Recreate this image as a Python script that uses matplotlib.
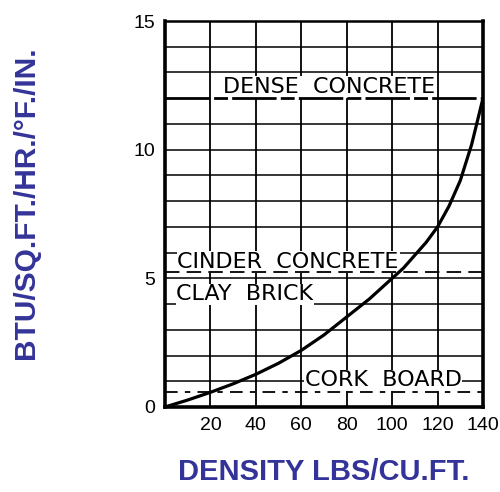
import numpy as np
import matplotlib
matplotlib.use("Agg")
import matplotlib.pyplot as plt

# Thermal conductivity of building materials vs. density
density = [0, 10, 20, 30, 40, 50, 60, 70, 80, 90, 100, 105, 110, 115, 120, 125, 130, 135, 140]
conductivity = [0, 0.27, 0.57, 0.9, 1.27, 1.7, 2.2, 2.8, 3.5, 4.2, 5.0, 5.4, 5.9, 6.4, 7.0,
                7.8, 8.8, 10.2, 12.0]

# Reference levels for individual materials
materials = ["DENSE  CONCRETE", "CINDER  CONCRETE", "CLAY  BRICK", "CORK  BOARD"]
dense_level = 12.0
cinder_level = 5.25
cork_level = 0.6
label_x = [25.5, 5.5, 5.0, 61.5]
label_y = [12.2, 5.4, 4.15, 0.8]

x_ticks = [20, 40, 60, 80, 100, 120, 140]
y_ticks = [0, 5, 10, 15]

label_color = "#333399"

fig = plt.figure(figsize=(5.0, 4.92), dpi=100)
ax = fig.add_axes([0.33, 0.1728, 0.636, 0.7845])

ax.set_xlim(0, 140)
ax.set_ylim(0, 15)

# grid: every 20 lb/cu.ft. and every 1 unit of conductivity
for gx in range(20, 140, 20):
    ax.axvline(gx, color="black", lw=1.3, zorder=1)
for gy in range(1, 15):
    if gy != 12:
        ax.axhline(gy, color="black", lw=1.1, zorder=1)

# material reference lines
ax.axhline(dense_level, color="black", lw=2.0, dashes=(16, 1.5, 5, 1.5), zorder=3)
ax.axhline(cinder_level, color="black", lw=1.3, dashes=(8, 4), zorder=3)
ax.axhline(cork_level, color="black", lw=1.3, dashes=(7, 4, 3, 4), zorder=3)

for name, lx, ly in zip(materials, label_x, label_y):
    ax.text(lx, ly, name, fontsize=16, family="DejaVu Sans",
            ha="left", va="baseline", color="black", zorder=2,
            bbox=dict(facecolor="white", edgecolor="none", pad=0.5))

ax.plot(density, conductivity, color="black", lw=2.3, zorder=4,
        solid_capstyle="round", solid_joinstyle="round")

ax.set_xticks(x_ticks)
ax.set_yticks(y_ticks)
ax.tick_params(length=0, labelsize=14, pad=7)
for lab in ax.get_xticklabels() + ax.get_yticklabels():
    lab.set_family("Liberation Sans")

for side, w in zip(["left", "bottom", "right", "top"], [2.6, 2.6, 2.6, 1.8]):
    ax.spines[side].set_linewidth(w)
    ax.spines[side].set_color("black")

fig.text(0.053, 0.589, "BTU/SQ.FT./HR./°F./IN.", rotation=90,
         ha="center", va="center", fontsize=21.5, fontweight="bold",
         family="Liberation Sans", color=label_color)
fig.text(0.648, 0.012, "DENSITY LBS/CU.FT.", ha="center", va="bottom",
         fontsize=21, fontweight="bold", family="Liberation Sans",
         color=label_color)

fig.savefig("out.png", dpi=100, facecolor="white")
